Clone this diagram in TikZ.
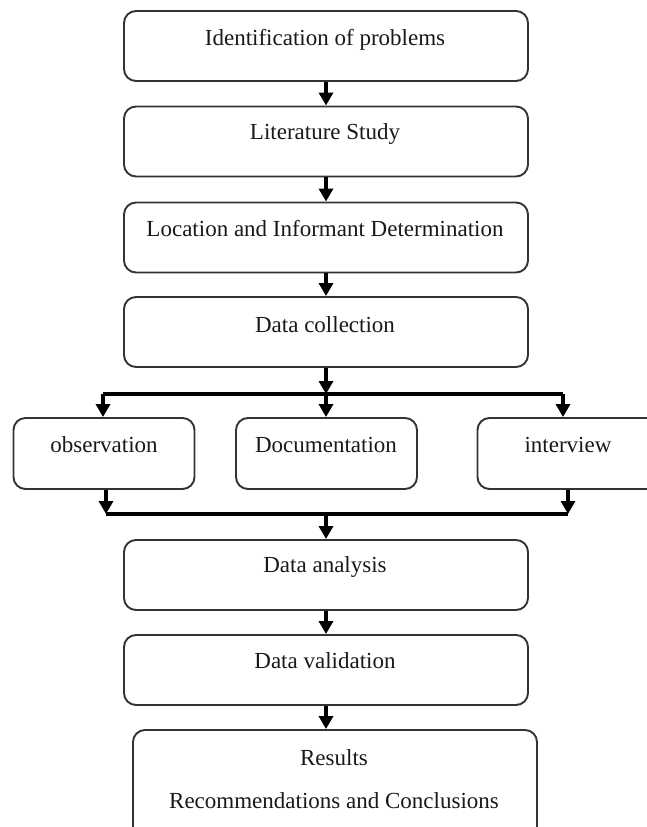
\documentclass[tikz,border=0pt]{standalone}
\usepackage{fontspec}
\setmainfont{Liberation Serif}
\usetikzlibrary{arrows.meta}
\begin{document}
\begin{tikzpicture}[x=1pt,y=-1pt,
  box/.style={draw=black!80, line width=1.9pt, rounded corners=12pt, fill=white, inner sep=0pt},
  lbl/.style={font=\fontsize{23}{27}\selectfont, inner sep=0pt, text=black!90},
  arr/.style={line width=3.4pt, -{Triangle[width=14pt,length=13pt]}},
  ln/.style={line width=3.4pt}]
\useasboundingbox (0,0) rectangle (647,827);
\fill[white] (0,0) rectangle (647,827);
\begin{scope}
\clip (0,0) rectangle (647,827);
% boxes
\node[box, minimum width=404pt, minimum height=70pt] (b1) at (326,46) {};
\node[box, minimum width=404pt, minimum height=70pt] (b2) at (326,141.5) {};
\node[box, minimum width=404pt, minimum height=70pt] (b3) at (326,237.5) {};
\node[box, minimum width=404pt, minimum height=70pt] (b4) at (326,332) {};
\node[box, minimum width=181pt, minimum height=71pt] (b5) at (104,453.5) {};
\node[box, minimum width=181pt, minimum height=71pt] (b6) at (326.5,453.5) {};
\node[box, minimum width=181pt, minimum height=71pt] (b7) at (568,453.5) {};
\node[box, minimum width=404pt, minimum height=70pt] (b8) at (326,575) {};
\node[box, minimum width=404pt, minimum height=70pt] (b9) at (326,670) {};
\node[box, minimum width=404pt, minimum height=110pt] (b10) at (335,785) {};
% labels
\node[lbl] (t1) at (325,40) {Identification of problems};
\node[lbl] (t2) at (325,134) {Literature Study};
\node[lbl] (t3) at (325,229) {Location and Informant Determination};
\node[lbl] (t4) at (325,325) {Data collection};
\node[lbl] (t5) at (104,445) {observation};
\node[lbl] (t6) at (326,445) {Documentation};
\node[lbl] (t7) at (568,445) {interview};
\node[lbl] (t8) at (325,567) {Data analysis};
\node[lbl] (t9) at (325,661) {Data validation};
\node[lbl] (t10a) at (334,758) {Results};
\node[lbl] (t10b) at (334,801) {Recommendations and Conclusions};
% connectors
\draw[arr] (b1.south) -- (b2.north);
\draw[arr] (b2.south) -- (b3.north);
\draw[arr] (b3.south) -- (b4.north);
\coordinate (j1) at (326,394);
\coordinate (jl) at (103,394);
\coordinate (jr) at (563,394);
\draw[arr] (b4.south) -- (j1);
\draw[ln] (jl) -- (jr);
\draw[arr] (jl) -- (jl |- b5.north);
\draw[arr] (j1) -- (j1 |- b6.north);
\draw[arr] (jr) -- (jr |- b7.north);
\coordinate (kl) at (106,514);
\coordinate (kr) at (568,514);
\coordinate (k1) at (326,514);
\draw[arr] (kl |- b5.south) -- (kl);
\draw[arr] (kr |- b7.south) -- (kr);
\draw[ln] (kl) -- (kr);
\draw[arr] (k1) -- (b8.north);
\draw[arr] (b8.south) -- (b9.north);
\draw[arr] (b9.south) -- (b10.north -| b9.south);
\end{scope}
\end{tikzpicture}
\end{document}
